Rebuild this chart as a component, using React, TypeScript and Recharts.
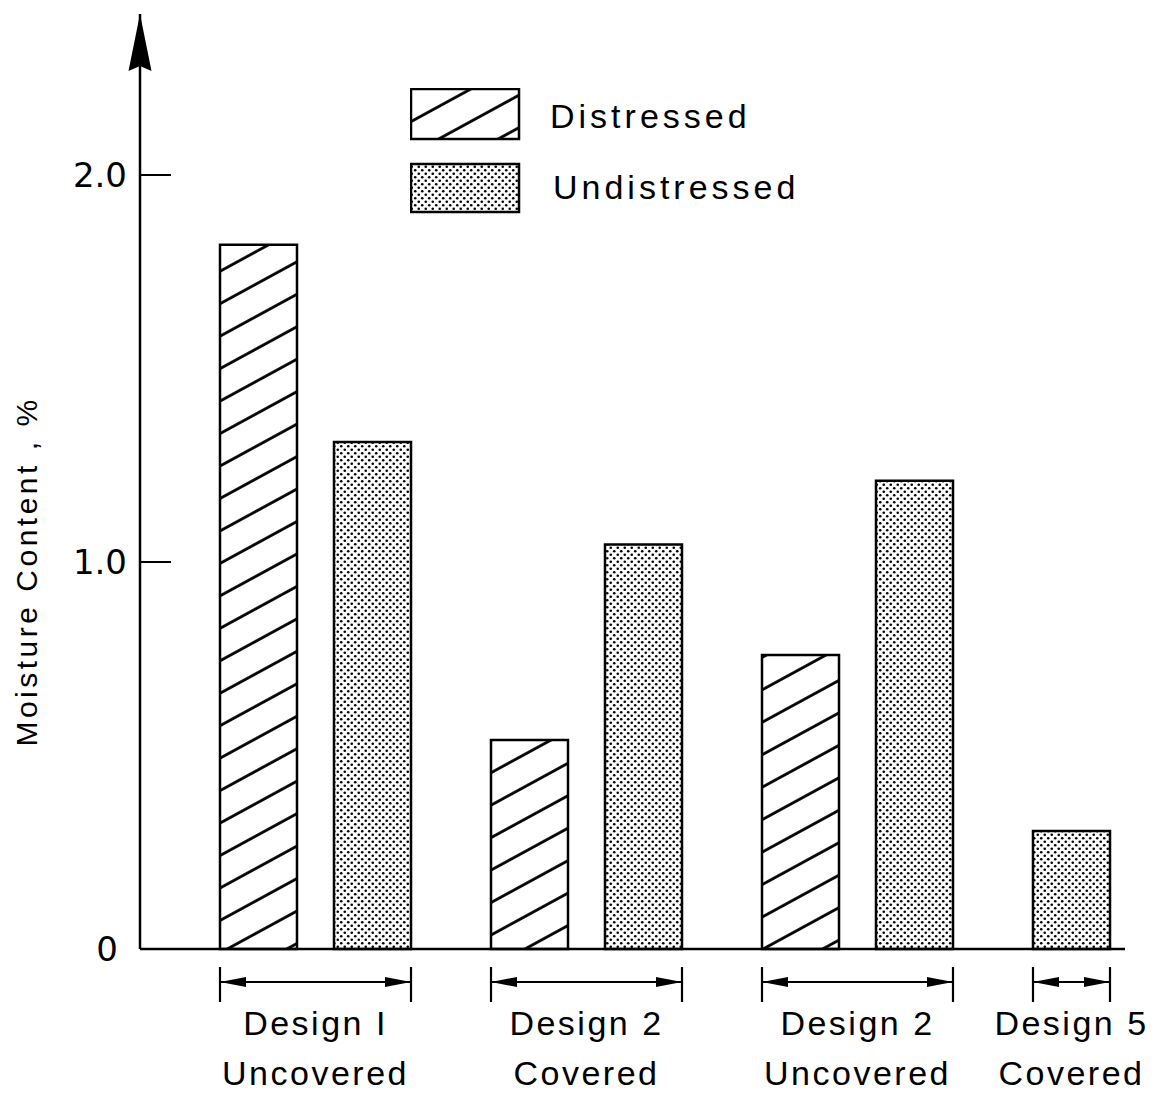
import React from 'react';
import { BarChart, Bar, XAxis, YAxis, Legend } from 'recharts';

const designLabels = ['Design I', 'Design 2', 'Design 2', 'Design 5'];
const conditionLabels = ['Uncovered', 'Covered', 'Uncovered', 'Covered'];
const distressed: (number | null)[] = [1.82, 0.54, 0.76, null];
const undistressed: (number | null)[] = [1.31, 1.045, 1.21, 0.305];
const yTicks = [0, 1, 2];
const yTickLabels = ['0', '1.0', '2.0'];
const yTitle = 'Moisture Content , %';

const BAR_SIZE = 77;
const BAR_GAP = 37;
const HALF = BAR_SIZE + BAR_GAP / 2;

const TEXT_FONT = '"Liberation Sans", Arial, sans-serif';
const NUM_FONT = '"DejaVu Sans", sans-serif';

// a group without a distressed bar shows its undistressed bar in the first slot
const chartData = designLabels.map((d, i) => ({
  name: `${d} ${conditionLabels[i]}`,
  distressed: distressed[i],
  undistressed: distressed[i] != null ? undistressed[i] : null,
  soloUndistressed: distressed[i] == null ? undistressed[i] : null,
}));

const GroupTick = (props: any) => {
  const { x, y, payload } = props;
  const i = payload.index;
  const paired = distressed[i] != null;
  const left = x - HALF;
  const right = paired ? x + HALF : x - BAR_GAP / 2;
  const cx = (left + right) / 2;
  const ay = y + 33;
  return (
    <g>
      <line x1={left} x2={left} y1={y + 18} y2={y + 53} stroke="#000" strokeWidth={2.2} />
      <line x1={right} x2={right} y1={y + 18} y2={y + 53} stroke="#000" strokeWidth={2.2} />
      <line x1={left} x2={right} y1={ay} y2={ay} stroke="#000" strokeWidth={2} />
      <path d={`M${left},${ay} L${left + 26},${ay - 5} L${left + 26},${ay + 5} Z`} fill="#000" />
      <path d={`M${right},${ay} L${right - 26},${ay - 5} L${right - 26},${ay + 5} Z`} fill="#000" />
      <text x={cx} y={y + 86} textAnchor="middle" fontSize={34} letterSpacing={2.5} fontFamily={TEXT_FONT} fill="#000">
        {designLabels[i]}
      </text>
      <text x={cx} y={y + 136} textAnchor="middle" fontSize={34} letterSpacing={2.5} fontFamily={TEXT_FONT} fill="#000">
        {conditionLabels[i]}
      </text>
    </g>
  );
};

const YTick = (props: any) => {
  const { x, y, payload } = props;
  const idx = yTicks.indexOf(payload.value);
  const label = idx >= 0 ? yTickLabels[idx] : String(payload.value);
  return (
    <g>
      {payload.value !== 0 && <line x1={x} x2={x + 31} y1={y} y2={y} stroke="#000" strokeWidth={2} />}
      <text
        x={payload.value === 0 ? x - 22 : x - 13}
        y={y}
        dy={12}
        textAnchor="end"
        fontSize={34}
        fontFamily={NUM_FONT}
        fill="#000"
      >
        {label}
      </text>
    </g>
  );
};

const YTitle = (props: any) => {
  const { viewBox } = props;
  const tx = 37;
  const ty = viewBox.y + viewBox.height / 2 + 90;
  return (
    <text
      x={tx}
      y={ty}
      transform={`rotate(-90, ${tx}, ${ty})`}
      textAnchor="middle"
      fontSize={30}
      letterSpacing={3.5}
      fontFamily={TEXT_FONT}
      fill="#000"
    >
      {yTitle}
    </text>
  );
};

const LegendBox = () => (
  <svg width={420} height={130}>
    <rect x={1} y={1} width={108} height={50} fill="url(#hatch)" stroke="#000" strokeWidth={2.5} />
    <text x={140} y={40} fontSize={34} letterSpacing={4} fontFamily={TEXT_FONT} fill="#000">Distressed</text>
    <rect x={1} y={76} width={108} height={48} fill="url(#dots)" stroke="#000" strokeWidth={2.5} />
    <text x={143} y={111} fontSize={34} letterSpacing={4} fontFamily={TEXT_FONT} fill="#000">Undistressed</text>
  </svg>
);

export default function App() {
  return (
    <div style={{ margin: '-8px 0 0 -8px', width: 1157, height: 1094, background: '#fff', position: 'relative' }}>
      <BarChart
        width={1157}
        height={1094}
        data={chartData}
        margin={{ top: 14, right: 32, bottom: 0, left: 0 }}
        barSize={BAR_SIZE}
        barGap={BAR_GAP}
      >
        <defs>
          <pattern id="hatch" patternUnits="userSpaceOnUse" width={12} height={28.5} patternTransform="rotate(-28.6)">
            <line x1={0} x2={12} y1={1.5} y2={1.5} stroke="#000" strokeWidth={2.8} />
          </pattern>
          <pattern id="dots" patternUnits="userSpaceOnUse" width={7} height={7}>
            <rect width={7} height={7} fill="#fff" />
            <circle cx={1.75} cy={1.75} r={1.3} fill="#000" />
            <circle cx={5.25} cy={5.25} r={1.3} fill="#000" />
          </pattern>
          <marker id="arrowUp" viewBox="-12 0 24 58" refX={0} refY={0} markerWidth={24} markerHeight={58} markerUnits="userSpaceOnUse" orient="0">
            <path d="M0,0 L11.5,57 L0,52 L-11.5,57 Z" fill="#000" />
          </marker>
        </defs>
        <XAxis
          dataKey="name"
          height={145}
          padding={{ left: 40, right: -139 }}
          axisLine={{ stroke: '#000', strokeWidth: 2.5 }}
          tickLine={false}
          tickSize={0}
          tickMargin={0}
          interval={0}
          tick={<GroupTick />}
        />
        <YAxis
          width={140}
          domain={[0, 2.416]}
          ticks={yTicks}
          axisLine={{ stroke: '#000', strokeWidth: 2.5, markerStart: 'url(#arrowUp)' }}
          tickLine={false}
          tickSize={0}
          tickMargin={0}
          tick={<YTick />}
          label={{ position: 'insideLeft', content: <YTitle /> }}
        />
        <Legend
          verticalAlign="middle"
          align="center"
          wrapperStyle={{ top: 88, left: 410, width: 420, height: 130 }}
          content={() => <LegendBox />}
        />
        <Bar dataKey="distressed" stackId="a" fill="url(#hatch)" stroke="#000" strokeWidth={2.5} isAnimationActive={false} />
        <Bar dataKey="soloUndistressed" stackId="a" fill="url(#dots)" stroke="#000" strokeWidth={2.5} isAnimationActive={false} />
        <Bar dataKey="undistressed" fill="url(#dots)" stroke="#000" strokeWidth={2.5} isAnimationActive={false} />
      </BarChart>
    </div>
  );
}
